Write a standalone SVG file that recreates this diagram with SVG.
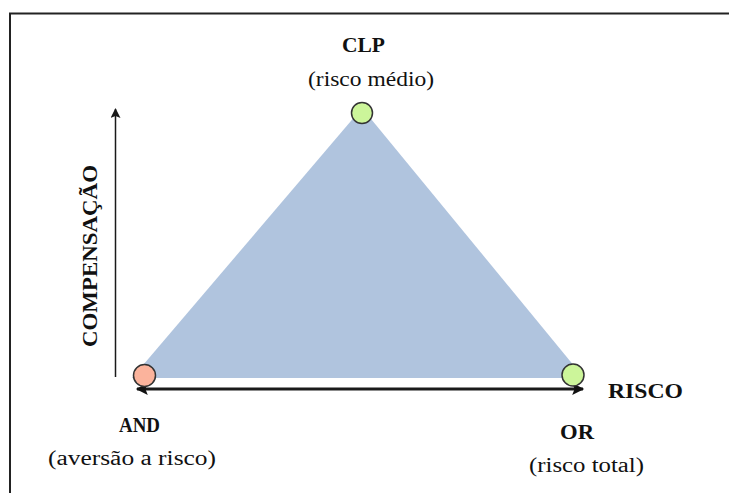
<svg xmlns="http://www.w3.org/2000/svg" width="729" height="493" viewBox="0 0 729 493">
<style>
text{font-family:"Liberation Serif","DejaVu Serif","Times New Roman",serif;fill:#111}
.b{font-weight:bold;font-size:21px}
.r{font-size:20px}
.node{stroke:#333;stroke-width:1.5}
.ax{stroke:#1a1a1a;fill:none}
</style>
<defs>
<marker id="ah" viewBox="0 0 10 10" refX="9" refY="5" markerWidth="10" markerHeight="10" markerUnits="userSpaceOnUse" orient="auto-start-reverse">
<path d="M0,0 L10,5 L0,10 L2,5 Z" fill="#1a1a1a"/>
</marker>
<marker id="ah2" viewBox="0 0 10 10" refX="9" refY="5" markerWidth="4.5" markerHeight="4" orient="auto-start-reverse">
<path d="M0,0 L10,5 L0,10 L2,5 Z" fill="#111"/>
</marker>
</defs>
<rect width="729" height="493" fill="#fff"/>
<path d="M10,493 V13.5 H729" fill="none" stroke="#222" stroke-width="2"/>
<polygon id="area" points="132,378 362,108 584,378" fill="#b0c4de"/>
<g id="connectors">
<line class="ax" x1="115.5" y1="377" x2="115.5" y2="109" stroke-width="1.5" marker-end="url(#ah)"/>
<line class="ax" x1="137" y1="389" x2="583" y2="389" stroke-width="3" marker-start="url(#ah2)" marker-end="url(#ah2)"/>
</g>
<g id="node-clp">
<circle class="node" cx="362" cy="113" r="10.5" fill="#ccf59a"/>
<text class="b" font-family="Liberation Serif, serif" x="342" y="52" textLength="43" lengthAdjust="spacingAndGlyphs">CLP</text>
<text class="r" font-family="Liberation Serif, serif" x="308" y="86" textLength="126" lengthAdjust="spacingAndGlyphs">(risco médio)</text>
</g>
<g id="node-and">
<circle class="node" cx="144.5" cy="375.5" r="11" fill="#fbb39c"/>
<text class="b" font-family="Liberation Serif, serif" x="119" y="432" textLength="41" lengthAdjust="spacingAndGlyphs">AND</text>
<text class="r" font-family="Liberation Serif, serif" x="48" y="465" textLength="168" lengthAdjust="spacingAndGlyphs">(aversão a risco)</text>
</g>
<g id="node-or">
<circle class="node" cx="573" cy="375" r="11" fill="#ccf59a"/>
<text class="b" font-family="Liberation Serif, serif" x="560" y="439" textLength="34" lengthAdjust="spacingAndGlyphs">OR</text>
<text class="r" font-family="Liberation Serif, serif" x="529" y="472" textLength="115" lengthAdjust="spacingAndGlyphs">(risco total)</text>
</g>
<g id="label-risco">
<text class="b" font-family="Liberation Serif, serif" x="608" y="398" textLength="75" lengthAdjust="spacingAndGlyphs">RISCO</text>
</g>
<g id="label-compensacao">
<text class="b" font-family="Liberation Serif, serif" transform="translate(97,347) rotate(-90)" x="0" y="0" textLength="182" lengthAdjust="spacingAndGlyphs">COMPENSAÇÃO</text>
</g>
</svg>
